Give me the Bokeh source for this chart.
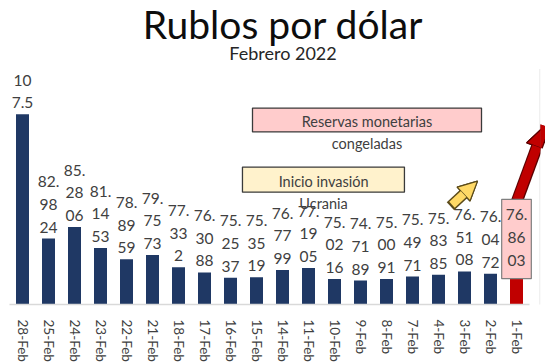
from bokeh.plotting import figure
from bokeh.models import (ColumnDataSource, Range1d, BoxAnnotation, Label, Arrow,
                          NormalHead, FixedTicker)
from bokeh.core.properties import value
from bokeh.embed import file_html
from bokeh.resources import INLINE

# Rublos por dólar, cierres diarios de febrero 2022 (del más reciente al más antiguo)
fechas = ["28-Feb", "25-Feb", "24-Feb", "23-Feb", "22-Feb", "21-Feb", "18-Feb",
          "17-Feb", "16-Feb", "15-Feb", "14-Feb", "11-Feb", "10-Feb", "9-Feb",
          "8-Feb", "7-Feb", "4-Feb", "3-Feb", "2-Feb", "1-Feb"]
rublos = [107.5, 82.9824, 85.2806, 81.1453, 78.8959, 79.7573, 77.332,
          76.3088, 75.2537, 75.3519, 76.7799, 77.1905, 75.0216, 74.7189,
          75.0091, 75.4971, 75.8385, 76.5108, 76.0472, 76.8603]

AZUL = "#1F3864"
ROJO = "#C00000"
GRIS_TEXTO = "#404040"
FUENTE = "Lato"


def envolver(v, ancho=2.5):
    """Parte la etiqueta en renglones estrechos, como una celda con ajuste de texto."""
    lineas, actual, usado = [], "", 0.0
    for c in str(v):
        w = 0.5 if c == "." else 1.0
        if usado + w > ancho and actual:
            lineas.append(actual)
            actual, usado = "", 0.0
        actual += c
        usado += w
    if actual:
        lineas.append(actual)
    return "\n".join(lineas)


pos = list(range(len(fechas)))
etiquetas = [envolver(v) for v in rublos]
colores = [AZUL] * (len(rublos) - 1) + [ROJO]

src = ColumnDataSource(dict(x=pos, valor=rublos, etiqueta=etiquetas, color=colores))
src_ant = ColumnDataSource(dict(x=pos[:-1], valor=rublos[:-1], etiqueta=etiquetas[:-1]))
src_ult = ColumnDataSource(dict(x=pos[-1:], valor=rublos[-1:], etiqueta=etiquetas[-1:]))

Y_MIN, Y_MAX = 70, 129.9

# El área de dibujo llega hasta el borde superior; el título va dentro de ella
p = figure(x_range=Range1d(-0.5, 19.923), y_range=Range1d(Y_MIN, Y_MAX),
           width=545, height=364, output_backend="svg", toolbar_location=None,
           min_border_left=9, min_border_right=5, min_border_top=0, min_border_bottom=0)

p.add_layout(Label(x=10.02, y=Y_MAX, text="Rublos por dólar", text_align="center",
                   text_baseline="top", text_font=FUENTE, text_font_size="39px",
                   text_color="#0d0d0d"))
p.add_layout(Label(x=10.02, y=119.6, text="Febrero 2022", text_align="center",
                   text_baseline="alphabetic", text_font=FUENTE, text_font_size="18px",
                   text_color="#262626"))

# borde derecho de la lámina
p.segment(x0=[19.9], y0=[60], x1=[19.9], y1=[116.4], line_color="#E6E6E6", line_width=1)

p.vbar(x="x", top="valor", width=0.5, fill_color="color", line_color=None, source=src)

p.text(x="x", y="valor", text="etiqueta", source=src_ant,
       text_align="center", text_baseline="bottom", y_offset=-3,
       text_font=value(FUENTE), text_font_size="15.5px", text_color=GRIS_TEXTO,
       text_line_height=1.26)

# Recuadros de texto
p.add_layout(BoxAnnotation(left=8.846, right=17.654, bottom=104.0, top=108.7,
                           fill_color="#FFCCCC", fill_alpha=1,
                           line_color="#3a3a3a", line_width=1.3, line_alpha=1))
p.add_layout(BoxAnnotation(left=8.46, right=14.69, bottom=92.13, top=97.08,
                           fill_color="#FFF2CC", fill_alpha=1,
                           line_color="#3a3a3a", line_width=1.3, line_alpha=1))

for txt, x, y in [("Reservas monetarias", 13.25, 105.97), ("congeladas", 13.25, 101.82),
                  ("Inicio invasión", 11.58, 94.31), ("Ucrania", 11.58, 89.96)]:
    p.add_layout(Label(x=x, y=y, text=txt, text_align="center", text_baseline="middle",
                       text_font=FUENTE, text_font_size="14.5px", text_color=GRIS_TEXTO))

# Flechas
p.add_layout(Arrow(x_start=16.46, y_start=89.37, x_end=17.5, y_end=94.31,
                   line_color="#5a4a1a", line_width=11,
                   end=NormalHead(size=19, fill_color="#FFD966", line_color="#5a4a1a",
                                  line_width=1.2)))
p.add_layout(Arrow(x_start=16.52, y_start=89.65, x_end=17.5, y_end=94.31,
                   line_color="#FFD966", line_width=8,
                   end=NormalHead(size=19, fill_color="#FFD966", line_color="#5a4a1a",
                                  line_width=1.2)))
p.add_layout(Arrow(x_start=19.02, y_start=90.4, x_end=20.08, y_end=105.18,
                   line_color="#5c0000", line_width=12,
                   end=NormalHead(size=22, fill_color=ROJO, line_color="#5c0000",
                                  line_width=1.2)))
p.add_layout(Arrow(x_start=19.03, y_start=90.6, x_end=20.08, y_end=105.18,
                   line_color=ROJO, line_width=9.5,
                   end=NormalHead(size=22, fill_color=ROJO, line_color="#5c0000",
                                  line_width=1.2)))

# Etiqueta del último día, en recuadro que tapa el arranque de la flecha
p.text(x="x", y="valor", text="etiqueta", source=src_ult, level="overlay",
       text_align="center", text_baseline="bottom", y_offset=9,
       text_font=value(FUENTE), text_font_size="15.5px", text_color=GRIS_TEXTO,
       text_line_height=1.26, background_fill_color="#FFCCCC",
       border_line_color="#7F7F7F", border_line_width=1.2,
       padding=dict(left=4, right=4, top=6, bottom=10))

p.yaxis.visible = False
p.xgrid.grid_line_color = None
p.ygrid.grid_line_color = None
p.outline_line_color = None
p.background_fill_color = "white"
p.border_fill_color = "white"

ax = p.xaxis[0]
ax.ticker = FixedTicker(ticks=pos)
ax.major_label_overrides = {i: f for i, f in zip(pos, fechas)}
ax.bounds = (-0.5, len(fechas) - 0.5)
ax.axis_line_color = "#D9D9D9"
ax.axis_line_width = 1.5
ax.major_tick_line_color = None
ax.minor_tick_line_color = None
ax.major_label_orientation = "vertical"
ax.major_label_standoff = 9
ax.major_label_text_font = FUENTE
ax.major_label_text_font_size = "13.5px"
ax.major_label_text_color = GRIS_TEXTO

open("out.html", "w").write(file_html(p, INLINE))
